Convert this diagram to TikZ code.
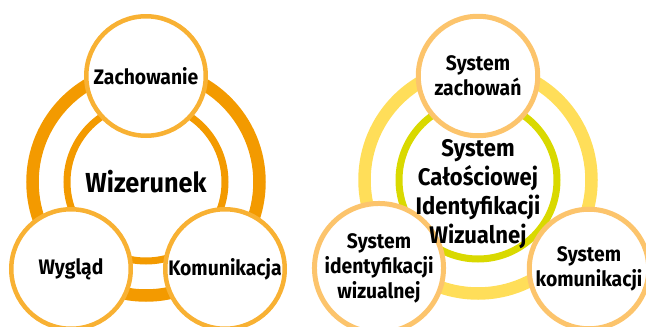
\documentclass[tikz,border=0pt]{standalone}
\usepackage{fontspec}
\setmainfont{Fira Sans}[FakeStretch=0.92]
\definecolor{ringorange}{HTML}{F39A00}
\definecolor{rimorange}{HTML}{F8B133}
\definecolor{ringyellow}{HTML}{FFDE59}
\definecolor{ringlime}{HTML}{D9D900}
\definecolor{rimpeach}{HTML}{FCC46C}
\tikzstyle{ring} = [circle,draw,inner sep=0pt]
\tikzstyle{outer ring} = [ring,line width=12.5pt,minimum size=227pt]
\tikzstyle{inner ring} = [ring,line width=7pt,minimum size=158pt]
\tikzstyle{part} = [circle,draw,fill=white,line width=4.5pt,inner sep=0pt,
minimum size=119.5pt,align=center,font=\bfseries\fontsize{21}{25}\selectfont]
\tikzstyle{core} = [align=center,inner sep=0pt]

\begin{document}
\begin{tikzpicture}[x=1pt,y=-1pt]
  \useasboundingbox (0,0) rectangle (646,327);
  % Wizerunek
  \node[outer ring,draw=ringorange](wiz-out) at (146,182) {};
  \node[inner ring,draw=ringorange](wiz-in) at (146,182) {};
  \node[part,draw=rimorange](zach) at (146,76) {Zachowanie};
  \node[part,draw=rimorange](wyg) at (71,269) {Wygląd};
  \node[part,draw=rimorange](kom) at (225,269) {Komunikacja};
  \node[core,font=\bfseries\fontsize{27.5}{30}\selectfont](wiz) at (146,182) {Wizerunek};
  % System Całościowej Identyfikacji Wizualnej
  \node[outer ring,draw=ringyellow](sciw-out) at (478,180) {};
  \node[inner ring,draw=ringlime](sciw-in) at (478,180) {};
  \node[part,draw=rimpeach,line width=5pt](szach) at (478,76) {System\\zachowań};
  \node[part,draw=rimpeach,line width=5pt](siw) at (379,268) {System\\identyfikacji\\wizualnej};
  \node[part,draw=rimpeach,line width=5pt](skom) at (589,269) {System\\komunikacji};
  \node[core,font=\bfseries\fontsize{24}{29}\selectfont](sciw) at (478,194)
    {System\\Całościowej\\Identyfikacji\\Wizualnej};
\end{tikzpicture}
\end{document}
